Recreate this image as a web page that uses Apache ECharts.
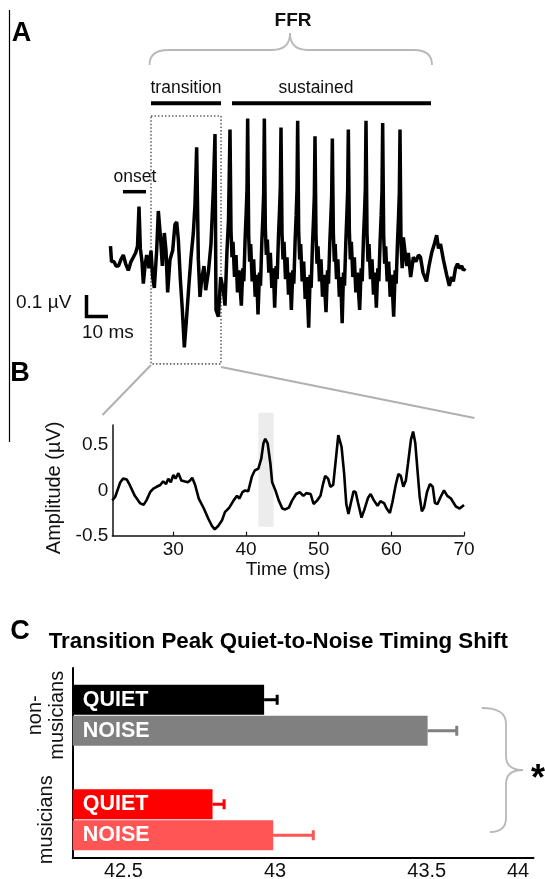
<!DOCTYPE html>
<html><head><meta charset="utf-8">
<script src="https://cdn.jsdelivr.net/npm/echarts@6/dist/echarts.min.js"></script>
<style>html,body{margin:0;padding:0;background:#fff}#c{width:545px;height:879px}</style>
</head><body><div id="c"></div>
<script>
// ---------- Panel A: full response (time in ms, amplitude in µV) ----------
const aTime = [-3.5,-2.9,-1.4,-0.2,1.3,2.8,4.2,5.6,7.2,8.8,10.2,11.6,12.7,13.6,14.4,15.4,16.2,17.2,18.2,19.6,
20.8,21.8,22.8,24.2,25.2,26.6,27.6,28.8,29.8,30.8,32.2,33.8,35.2,36.2,37.2,38.4,39.6,40.8,42.2,43.6,
44.8,46.2,47.2,48.2,49.2,50.2,51.2,52.6,53.6,55.2,56.8,58.2,59.2,59.8,61.2,62.6,64.2,65.2,66.4,67.3,68.2,
68.8,69.4,70.0,70.9,71.8,72.7,73.6,75.0,75.9,76.5,77.3,77.9,78.4,78.8,
79.4,80.0,80.6,81.5,82.4,83.3,84.2,85.0,85.9,86.5,87.3,87.9,88.4,88.8,
89.4,90.0,90.6,91.5,92.4,93.3,94.2,95.0,95.9,96.5,97.3,97.9,98.4,98.8,
99.4,100.0,100.6,101.5,102.4,103.3,104.2,105.0,105.9,106.5,107.3,107.9,108.4,108.8,
109.4,110.0,110.6,111.5,112.4,113.3,114.2,115.4,116.3,116.9,117.7,118.3,118.8,119.2,
119.8,120.4,121.0,121.9,122.8,123.7,124.6,125.8,126.7,127.3,128.1,128.7,129.2,129.6,
130.2,130.8,131.3,132.1,132.9,133.8,134.6,135.5,136.3,136.9,137.7,138.3,138.8,139.2,
139.8,140.4,141.0,141.9,142.8,143.7,144.6,146.0,146.9,147.5,148.3,148.9,149.4,149.8,
150.4,151.0,151.6,152.5,153.4,154.3,155.2,156.0,156.9,157.5,158.3,158.9,159.4,159.8,
160.4,161.0,161.6,162.5,163.4,164.3,165.2,166.4,167.3,167.9,168.7,169.3,169.8,170.2,
170.8,171.5,172.2,174.2,175.2,176.6,178.2,179.8,181.3,182.5,184.0,186.1,187.6,189.2,190.8,192.2,
193.3,194.5,196.2,198.2,199.8,201.1,202.2,203.5,204.7,205.9,207.2,208.3,209.2];
const aAmp = [0.04,-0.03,-0.03,-0.05,-0.05,-0.02,0.00,-0.04,-0.07,-0.03,-0.01,0.01,0.04,0.22,0.03,-0.03,-0.13,-0.05,0.00,-0.06,
0.02,-0.10,-0.15,0.02,0.20,0.07,-0.05,0.10,0.02,-0.17,-0.02,0.02,0.14,0.15,0.07,-0.11,-0.25,-0.42,-0.28,-0.13,
-0.01,0.10,0.23,0.49,-0.02,-0.19,-0.11,-0.05,-0.16,-0.08,0.05,0.30,0.55,-0.25,-0.28,-0.10,-0.16,-0.23,0.02,0.16,0.57,
0.11,-0.01,0.06,-0.10,0.00,-0.17,-0.07,-0.23,-0.06,-0.12,0.08,0.19,0.30,0.62,
0.09,-0.03,0.05,-0.12,-0.02,-0.19,-0.09,-0.27,-0.08,-0.14,0.06,0.17,0.28,0.62,
0.12,0.00,0.07,-0.08,0.01,-0.15,-0.06,-0.24,-0.05,-0.11,0.09,0.20,0.31,0.58,
0.10,-0.02,0.06,-0.11,-0.01,-0.18,-0.08,-0.25,-0.07,-0.13,0.07,0.18,0.30,0.61,
0.11,-0.02,0.05,-0.12,-0.03,-0.20,-0.10,-0.33,-0.09,-0.15,0.05,0.16,0.27,0.54,
0.09,-0.04,0.04,-0.12,-0.02,-0.19,-0.09,-0.26,-0.07,-0.13,0.06,0.17,0.27,0.53,
0.10,-0.03,0.05,-0.11,-0.02,-0.19,-0.10,-0.31,-0.08,-0.14,0.06,0.18,0.29,0.57,
0.11,-0.02,0.06,-0.10,-0.01,-0.17,-0.08,-0.25,-0.06,-0.12,0.08,0.19,0.30,0.61,
0.10,-0.03,0.05,-0.11,-0.02,-0.18,-0.08,-0.24,-0.06,-0.12,0.07,0.18,0.29,0.60,
0.09,-0.04,0.04,-0.12,-0.03,-0.19,-0.09,-0.28,-0.07,-0.13,0.06,0.17,0.28,0.57,
0.05,-0.06,0.08,-0.05,0.01,-0.10,-0.01,-0.03,0.00,-0.01,-0.08,-0.12,-0.05,0.01,0.05,0.09,
0.03,0.05,-0.02,-0.09,-0.14,-0.10,-0.12,-0.06,-0.04,-0.06,-0.05,-0.07,-0.06];
const boxTime = [20.8, 62.8];     // dotted "transition" window
const boxAmp = [0.632, -0.495];

// ---------- Panel B: transition region ----------
const bTime = [21.6,22.0,22.7,23.1,23.6,24.0,24.7,25.4,25.9,26.3,26.8,27.25,27.7,28.2,28.6,29.0,29.3,29.65,30.0,30.3,
30.7,31.1,31.5,32.0,32.3,32.6,33.0,33.5,34.2,34.8,35.3,35.7,36.2,36.7,37.1,37.7,38.3,38.76,39.1,39.5,
39.9,40.3,40.8,41.2,41.7,42.1,42.4,42.65,42.98,43.35,43.6,44.05,44.5,45.0,45.4,45.9,46.35,46.9,47.4,47.9,
48.3,48.9,49.3,49.8,50.25,50.6,50.9,51.3,51.6,52.0,52.4,52.7,52.9,53.15,53.5,53.8,54.1,54.4,54.8,55.1,
55.4,55.9,56.3,56.8,57.15,57.6,58.1,58.5,59.0,59.35,59.8,60.15,60.6,60.97,61.3,61.65,62.0,62.3,62.7,63.0,
63.3,63.6,63.9,64.2,64.5,64.9,65.3,65.7,66.0,66.35,66.8,67.25,67.7,68.2,68.9,69.4,70.0];
const bAmp = [-0.11,-0.07,0.09,0.13,0.12,0.06,-0.06,-0.14,-0.16,-0.11,-0.02,0.02,0.04,0.06,0.10,0.07,0.13,0.09,0.17,0.13,
0.19,0.11,0.10,0.09,0.11,0.14,0.06,-0.09,-0.20,-0.31,-0.39,-0.43,-0.39,-0.33,-0.24,-0.19,-0.11,-0.06,-0.09,-0.02,
0.00,-0.01,0.15,0.22,0.24,0.35,0.52,0.57,0.52,0.30,0.09,0.00,-0.11,-0.20,-0.21,-0.19,-0.11,-0.04,-0.02,-0.06,
-0.03,-0.04,-0.15,-0.11,-0.06,0.07,0.16,0.13,0.04,0.06,0.37,0.61,0.63,0.48,0.19,-0.15,-0.26,-0.15,-0.01,-0.02,
-0.13,-0.30,-0.21,-0.08,-0.04,-0.11,-0.17,-0.12,-0.14,-0.20,-0.25,-0.13,0.06,0.18,0.16,0.04,0.11,0.30,0.56,0.65,
0.52,0.22,-0.07,-0.23,-0.19,-0.02,0.07,0.04,-0.14,-0.15,-0.07,0.00,-0.06,-0.09,-0.18,-0.20,-0.16];
const bXTicks = [30, 40, 50, 60, 70];
const bYTicks = [-0.5, 0, 0.5];
const shadeRange = [41.7, 43.8];

// ---------- Panel C: transition peak timing ----------
const groups = ['non-\nmusicians', 'musicians'];
const conditions = ['QUIET', 'NOISE'];
const quietMean = [42.964, 42.794];
const quietErr = [0.043, 0.038];
const noiseMean = [43.503, 42.994];
const noiseErr = [0.096, 0.132];
const cTicks = [42.5, 43, 43.5];
const cLastTickLabel = '44';

const FONT = '"Liberation Sans", Arial, Helvetica, sans-serif';
const quietColors = ['#000000', '#ff0000'];
const noiseColors = ['#808080', '#ff5555'];

const chart = echarts.init(document.getElementById('c'), null, {renderer: 'canvas'});

const aData = aTime.map((t, i) => [t, aAmp[i]]);
const bData = bTime.map((t, i) => [t, bAmp[i]]);
const errData = [];
groups.forEach((g, i) => {
  errData.push([i, 0, quietMean[i], quietErr[i]]);
  errData.push([i, 1, noiseMean[i], noiseErr[i]]);
});

const BAR_W = 30, BAR_GAP = 1;
const cMin = 42.333, cMax = 43.852;

function txt(text, x, y, size, opts) {
  opts = opts || {};
  return {
    type: 'text', x: x, y: y, silent: true,
    style: {
      text: text, fill: opts.fill || '#111',
      font: (opts.bold ? 'bold ' : '') + size + 'px ' + FONT,
      align: opts.align || 'center', verticalAlign: opts.valign || 'middle',
      textAlign: opts.align || 'center', textVerticalAlign: opts.valign || 'middle'
    }
  };
}
function seg(x1, y1, x2, y2, w, c) {
  return {type: 'line', silent: true, shape: {x1, y1, x2, y2}, style: {stroke: c || '#000', lineWidth: w}};
}
function bez(x1, y1, cx1, cy1, cx2, cy2, x2, y2, w, c) {
  return {type: 'bezierCurve', silent: true,
    shape: {x1, y1, cpx1: cx1, cpy1: cy1, cpx2: cx2, cpy2: cy2, x2, y2},
    style: {stroke: c, lineWidth: w, fill: null}};
}
const BR = '#b8b8b8', BW = 1.8;
const C_AXIS_Y = 858, C_LABEL_MARGIN = 3;

const option = {
  animation: false,
  backgroundColor: '#fff',
  grid: [
    {left: 108, top: 112, width: 360, height: 264, outerBoundsMode: 'none', containLabel: false},
    {left: 112.3, top: 425, width: 351.7, height: 110.7, outerBoundsMode: 'none', containLabel: false},
    {left: 112.3, top: 412.7, width: 351.7, height: 114, outerBoundsMode: 'none', containLabel: false},
    {left: 72.7, top: 668, width: 460.8, height: C_AXIS_Y - 668, outerBoundsMode: 'none', containLabel: false},
    {left: 72.7, top: 663, width: 460.8, height: 209, outerBoundsMode: 'none', containLabel: false}
  ],
  xAxis: [
    {gridIndex: 0, type: 'value', min: -5, max: 211, show: false},
    {gridIndex: 1, type: 'value', min: 21.6, max: 70,
      axisLine: {onZero: false, lineStyle: {color: '#111', width: 1.5}},
      axisTick: {show: true, inside: true, length: 4, customValues: bXTicks, lineStyle: {color: '#111', width: 1.2}},
      axisLabel: {customValues: bXTicks, color: '#111', fontSize: 19, fontFamily: FONT, margin: 5},
      splitLine: {show: false},
      name: 'Time (ms)', nameLocation: 'middle', nameGap: 25,
      nameTextStyle: {color: '#111', fontSize: 19, fontFamily: FONT}},
    {gridIndex: 2, type: 'value', min: 21.6, max: 70, show: false},
    {gridIndex: 3, type: 'value', min: cMin, max: cMax,
      axisLine: {onZero: false, lineStyle: {color: '#000', width: 2}},
      axisTick: {show: false},
      axisLabel: {customValues: cTicks, color: '#111', fontSize: 20, fontFamily: FONT, margin: C_LABEL_MARGIN,
        formatter: v => String(v)},
      splitLine: {show: false}},
    {gridIndex: 4, type: 'value', min: cMin, max: cMax, startValue: cMin, show: false}
  ],
  yAxis: [
    {gridIndex: 0, type: 'value', min: -0.55, max: 0.65, show: false},
    {gridIndex: 1, type: 'value', min: -0.5, max: 0.722,
      axisLine: {show: true, onZero: false, lineStyle: {color: '#111', width: 1.5}},
      axisTick: {show: false},
      axisLabel: {customValues: bYTicks, color: '#111', fontSize: 19, fontFamily: FONT, margin: 4,
        formatter: v => String(v)},
      splitLine: {show: false},
      name: 'Amplitude (µV)', nameLocation: 'middle', nameGap: 40, nameRotate: 90,
      nameTextStyle: {color: '#111', fontSize: 20, fontFamily: FONT, padding: [0, 15, 0, 0]}},
    {gridIndex: 2, type: 'value', min: 0, max: 1, show: false},
    {gridIndex: 3, type: 'value', min: 0, max: 1,
      axisLine: {show: true, onZero: false, lineStyle: {color: '#000', width: 2}},
      axisTick: {show: false}, axisLabel: {show: false}, splitLine: {show: false}},
    {gridIndex: 4, type: 'category', data: groups, inverse: true,
      axisLine: {show: false}, axisTick: {show: false},
      axisLabel: {rotate: 90, interval: 0, verticalAlign: 'middle', margin: 26, color: '#111',
        fontSize: 20, lineHeight: 22, fontFamily: FONT}}
  ],
  series: [
    {type: 'custom', xAxisIndex: 2, yAxisIndex: 2, silent: true, z: 1,
      data: [shadeRange],
      renderItem: (params, api) => {
        const p0 = api.coord([api.value(0), 1]);
        const p1 = api.coord([api.value(1), 0]);
        return {type: 'rect', shape: {x: p0[0], y: p0[1], width: p1[0] - p0[0], height: p1[1] - p0[1]},
          style: {fill: '#ececec'}};
      }},
    {type: 'line', xAxisIndex: 0, yAxisIndex: 0, data: aData, showSymbol: false, silent: true,
      lineStyle: {color: '#000', width: 3.5}, z: 3,
      markArea: {silent: true,
        itemStyle: {color: 'rgba(0,0,0,0)', borderColor: '#666', borderWidth: 1.6, borderType: [1.5, 2]},
        data: [[{xAxis: boxTime[0], yAxis: boxAmp[0]}, {xAxis: boxTime[1], yAxis: boxAmp[1]}]]}},
    {type: 'line', xAxisIndex: 1, yAxisIndex: 1, data: bData, showSymbol: false, silent: true,
      lineStyle: {color: '#000', width: 2.6}, z: 3},
    {type: 'bar', name: conditions[0], xAxisIndex: 4, yAxisIndex: 4, barWidth: BAR_W, barGap: (BAR_GAP / BAR_W * 100) + '%',
      data: quietMean.map((v, i) => ({value: v, itemStyle: {color: quietColors[i]}})),
      label: {show: true, position: 'insideLeft', distance: 10, formatter: '{a}', color: '#fff',
        fontWeight: 'bold', fontSize: 21.5, fontFamily: FONT}},
    {type: 'bar', name: conditions[1], xAxisIndex: 4, yAxisIndex: 4, barWidth: BAR_W,
      data: noiseMean.map((v, i) => ({value: v, itemStyle: {color: noiseColors[i]}})),
      label: {show: true, position: 'insideLeft', distance: 10, formatter: '{a}', color: '#fff',
        fontWeight: 'bold', fontSize: 21.5, fontFamily: FONT}},
    {type: 'custom', xAxisIndex: 4, yAxisIndex: 4, silent: true, z: 4,
      encode: {x: [2, 3], y: 0},
      data: errData,
      renderItem: (params, api) => {
        const cat = api.value(0), s = api.value(1), m = api.value(2), e = api.value(3);
        const p0 = api.coord([m, cat]);
        const p1 = api.coord([m + e, cat]);
        const y = p0[1] + (s === 0 ? -1 : 1) * (BAR_W + BAR_GAP) / 2;
        const col = (s === 0 ? quietColors : noiseColors)[cat];
        return {type: 'group', children: [
          {type: 'line', shape: {x1: p0[0], y1: y, x2: p1[0], y2: y}, style: {stroke: col, lineWidth: 3}},
          {type: 'line', shape: {x1: p1[0], y1: y - 5, x2: p1[0], y2: y + 5}, style: {stroke: col, lineWidth: 3}}
        ]};
      }}
  ],
  graphic: {elements: [
    seg(9.5, 10, 9.5, 442, 1.2, '#000'),
    txt('A', 21.5, 34, 27, {bold: true, fill: '#000'}),
    txt('B', 20, 374, 27, {bold: true, fill: '#000'}),
    txt('C', 20, 632, 27, {bold: true, fill: '#000'}),
    txt('FFR', 293, 20.5, 19, {bold: true}),
    bez(149.5, 65, 149.5, 55, 156, 50, 168, 50, BW, BR),
    seg(168, 50, 272, 50, BW, BR),
    bez(272, 50, 284, 50, 290, 45, 290, 33, BW, BR),
    bez(290, 33, 290, 45, 296, 50, 308, 50, BW, BR),
    seg(308, 50, 414, 50, BW, BR),
    bez(414, 50, 426, 50, 432, 55, 432, 65, BW, BR),
    txt('transition', 186, 87.7, 17.5),
    txt('sustained', 316, 87.7, 17.5),
    seg(151, 103.3, 221, 103.3, 4),
    seg(232, 103.3, 431, 103.3, 4),
    txt('onset', 135, 176.7, 17.5),
    seg(123, 191.7, 146, 191.7, 3.5),
    txt('0.1 µV', 16, 303, 19, {align: 'left'}),
    {type: 'polyline', silent: true, shape: {points: [[86.5, 295], [86.5, 316.5], [108, 316.5]]},
      style: {stroke: '#000', lineWidth: 3.5, fill: null}},
    txt('10 ms', 82, 333, 19, {align: 'left'}),
    seg(151, 365, 102.5, 415, 2, '#b0b0b0'),
    seg(221, 367, 474.5, 418, 2, '#b0b0b0'),
    txt('Transition Peak Quiet-to-Noise Timing Shift', 48.7, 641.7, 22.3, {bold: true, align: 'left', fill: '#000'}),
    txt(cLastTickLabel, 518, C_AXIS_Y + C_LABEL_MARGIN, 20, {valign: 'top'}),
    bez(481.7, 708, 497, 708, 506, 712, 506, 724, BW, BR),
    seg(506, 724, 506, 756, BW, BR),
    bez(506, 756, 506, 765, 512, 770, 523, 770, BW, BR),
    bez(523, 770, 512, 770, 506, 775, 506, 784, BW, BR),
    seg(506, 784, 506, 818, BW, BR),
    bez(506, 818, 506, 828, 500, 832, 490, 832, BW, BR),
    txt('*', 538, 780, 36, {bold: true, fill: '#000'})
  ]}
};
chart.setOption(option);
</script>
</body></html>
